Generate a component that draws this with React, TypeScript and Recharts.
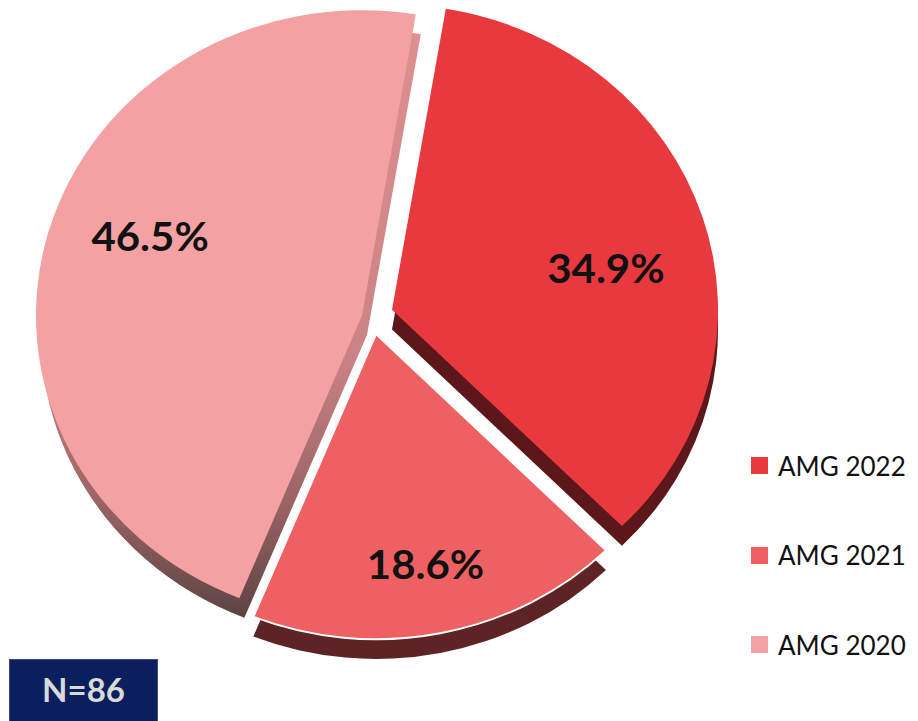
import React from "react";
import { PieChart, Pie, Cell, Legend } from "recharts";

const CATEGORIES = ["AMG 2022", "AMG 2021", "AMG 2020"];
const VALUES = [34.9, 18.6, 46.5];
const SAMPLE_LABEL = "N=86";

const TOP_COLORS = ["#E83A3E", "#EF6062", "#F4A1A3"];
const DEPTH_FILLS = ["#5B171A", "#5E2425", "url(#pinkDepth)"];
const CENTERS = [
  { cx: 392, cy: 331 },
  { cx: 376, cy: 357 },
  { cx: 362, cy: 337 },
];
const LABEL_RADIUS = [0.67, 0.77, 0.7];
const LABEL_SHIFT = [6, 0, 6];
const OUTER_R = 326;
const DEPTH = 21;
const SCALE_Y = 0.936;
const START = 80.5;

const data = CATEGORIES.map((name, i) => ({ name, value: VALUES[i] }));
const RAD = Math.PI / 180;

function makeLabel(idx: number) {
  return (p: any) => {
    if (p.index !== idx) return null;
    const a = (p.midAngle - LABEL_SHIFT[idx]) * RAD;
    const r = p.outerRadius * LABEL_RADIUS[idx];
    const x = p.cx + r * Math.cos(-a);
    const y = p.cy + r * Math.sin(-a);
    return (
      <text
        x={x}
        y={y}
        textAnchor="middle"
        dominantBaseline="central"
        fill="#111"
        fontFamily="Lato, 'Open Sans', sans-serif"
        fontWeight={700}
        fontSize={42}
      >
        {`${Number(p.value).toFixed(1)}%`}
      </text>
    );
  };
}

const LegendContent = () => (
  <div style={{ fontFamily: "Lato, 'Open Sans', sans-serif" }}>
    {CATEGORIES.map((c, i) => (
      <div
        key={c}
        style={{ height: 89.5, display: "flex", alignItems: "center" }}
      >
        <span
          style={{
            display: "inline-block",
            width: 17,
            height: 17,
            background: TOP_COLORS[i],
            marginRight: 10,
          }}
        />
        <span style={{ fontSize: 26, color: "#111", lineHeight: 1 }}>{c}</span>
      </div>
    ))}
  </div>
);

export default function App() {
  return (
    <div
      style={{
        position: "fixed",
        left: 0,
        top: 0,
        width: 918,
        height: 721,
        overflow: "hidden",
        background: "#fff",
      }}
    >
      <style>{`.pie3d svg.recharts-surface{transform:scaleY(${SCALE_Y});transform-origin:0 0;}`}</style>
      <div className="pie3d" style={{ position: "absolute", left: 0, top: 0 }}>
        <PieChart
          width={918}
          height={Math.round(721 / SCALE_Y)}
          margin={{ top: 0, right: 0, bottom: 0, left: 0 }}
        >
          <defs>
            <linearGradient id="pinkDepth" x1="0" y1="0" x2="0" y2="1">
              <stop offset="0" stopColor="#DE8F91" />
              <stop offset="0.55" stopColor="#CB8385" />
              <stop offset="0.8" stopColor="#9C6465" />
              <stop offset="1" stopColor="#5D4343" />
            </linearGradient>
          </defs>
          {[2, 0, 1].map((k) => (
            <Pie
              key={`depth-${k}`}
              data={data}
              dataKey="value"
              nameKey="name"
              cx={CENTERS[k].cx + (k === 2 ? 5 : 0)}
              cy={CENTERS[k].cy + DEPTH}
              outerRadius={OUTER_R}
              startAngle={START}
              endAngle={START - 360}
              stroke="none"
              isAnimationActive={false}
              legendType="none"
            >
              {data.map((d, i) => (
                <Cell key={d.name} fill={i === k ? DEPTH_FILLS[k] : "transparent"} stroke="none" />
              ))}
            </Pie>
          ))}
          {[0, 2, 1].map((k) => (
            <Pie
              key={`top-${k}`}
              data={data}
              dataKey="value"
              nameKey="name"
              cx={CENTERS[k].cx}
              cy={CENTERS[k].cy}
              outerRadius={OUTER_R}
              startAngle={START}
              endAngle={START - 360}
              isAnimationActive={false}
              labelLine={false}
              label={makeLabel(k)}
              legendType="none"
            >
              {data.map((d, i) => (
                <Cell
                  key={d.name}
                  fill={i === k ? TOP_COLORS[k] : "transparent"}
                  stroke={i === k && k === 1 ? "#fff" : "none"}
                  strokeWidth={2}
                />
              ))}
            </Pie>
          ))}
          <Legend
            layout="vertical"
            align="right"
            verticalAlign="middle"
            content={<LegendContent />}
            wrapperStyle={{ left: 751, top: 421, right: "auto", bottom: "auto", width: 167 }}
          />
        </PieChart>
      </div>
      <div
        style={{
          position: "absolute",
          left: 9,
          top: 659,
          width: 149,
          height: 70,
          background: "#0B1F5E",
          border: "1px solid #3A4B7E",
          boxSizing: "border-box",
        }}
      >
        <div
          style={{
            position: "absolute",
            left: 0,
            top: 0,
            width: "100%",
            height: 70,
            lineHeight: "70px",
            marginTop: -6,
            textAlign: "center",
            color: "#D9D9D9",
            fontFamily: "Lato, 'Open Sans', sans-serif",
            fontWeight: 700,
            fontSize: 33,
          }}
        >
          {SAMPLE_LABEL}
        </div>
      </div>
    </div>
  );
}
